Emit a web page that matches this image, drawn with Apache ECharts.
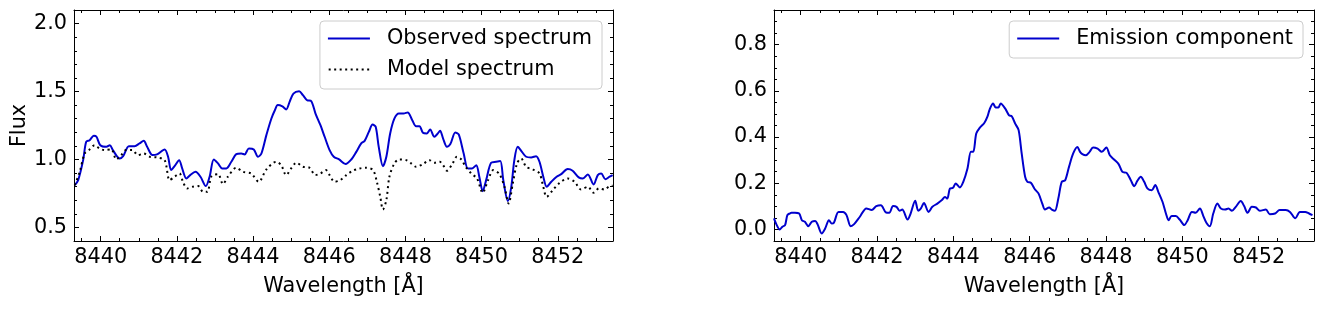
<!DOCTYPE html>
<html><head><meta charset="utf-8">
<script src="https://cdn.jsdelivr.net/npm/echarts@6/dist/echarts.min.js"></script>
<style>html,body{margin:0;padding:0;background:#fff}#c{width:1323px;height:309px}</style>
</head><body><div id="c"></div>
<script>
// [wavelength (Å), flux]
const observedSpectrum = [
[8439.32,0.811],[8439.41,0.848],[8439.54,0.995],[8439.62,1.13],[8439.71,1.142],[8439.82,1.174],[8439.89,1.167],[8439.99,1.105],
[8440.15,1.093],[8440.24,1.105],[8440.32,1.069],[8440.50,1.007],[8440.59,1.024],[8440.74,1.098],[8440.89,1.098],[8441.02,1.118],
[8441.13,1.137],[8441.22,1.093],[8441.36,1.032],[8441.48,1.037],[8441.68,1.074],[8441.77,1.02],[8441.85,0.922],[8441.94,0.951],
[8442.06,0.995],[8442.14,0.934],[8442.25,0.86],[8442.35,0.885],[8442.49,0.909],[8442.62,0.873],[8442.76,0.804],[8442.86,0.873],
[8442.97,1.0],[8443.08,0.971],[8443.19,0.934],[8443.30,0.934],[8443.43,0.983],[8443.56,1.039],[8443.69,1.044],[8443.78,1.037],
[8443.89,1.081],[8444.02,1.074],[8444.13,1.02],[8444.22,1.044],[8444.35,1.179],[8444.48,1.30],[8444.57,1.36],[8444.65,1.40],
[8444.77,1.39],[8444.87,1.368],[8444.96,1.424],[8445.06,1.485],[8445.21,1.502],[8445.31,1.473],[8445.42,1.436],[8445.53,1.429],
[8445.64,1.338],[8445.77,1.252],[8445.88,1.167],[8446.01,1.069],[8446.12,1.02],[8446.26,1.0],[8446.43,0.966],[8446.58,1.0],
[8446.71,1.056],[8446.84,1.118],[8446.93,1.137],[8447.04,1.203],[8447.14,1.257],[8447.22,1.24],[8447.30,1.093],[8447.41,0.951],
[8447.50,1.02],[8447.60,1.191],[8447.71,1.30],[8447.83,1.338],[8447.95,1.338],[8448.06,1.346],[8448.18,1.289],[8448.28,1.245],
[8448.37,1.245],[8448.46,1.196],[8448.56,1.191],[8448.65,1.221],[8448.76,1.167],[8448.85,1.191],[8448.91,1.211],[8448.99,1.154],
[8449.09,1.093],[8449.18,1.113],[8449.31,1.199],[8449.40,1.184],[8449.53,1.044],[8449.64,0.934],[8449.75,0.934],[8449.86,0.958],
[8449.94,0.873],[8450.03,0.767],[8450.12,0.848],[8450.25,0.976],[8450.38,0.983],[8450.49,0.988],[8450.57,0.848],[8450.69,0.694],
[8450.78,0.799],[8450.86,0.995],[8450.95,1.093],[8451.06,1.056],[8451.17,1.02],[8451.30,1.015],[8451.43,1.024],[8451.52,0.983],
[8451.62,0.873],[8451.71,0.799],[8451.83,0.836],[8451.97,0.873],[8452.09,0.892],[8452.26,0.929],[8452.39,0.917],[8452.55,0.868],
[8452.66,0.86],[8452.79,0.89],[8452.94,0.816],[8453.05,0.885],[8453.14,0.897],[8453.25,0.855],[8453.36,0.873],[8453.44,0.885]
];
const modelSpectrum = [
[8439.32,0.811],[8439.45,0.909],[8439.58,1.044],[8439.71,1.074],[8439.84,1.105],[8439.97,1.081],[8440.10,1.069],[8440.28,1.074],
[8440.41,1.0],[8440.54,1.032],[8440.67,1.069],[8440.83,1.069],[8440.98,1.032],[8441.13,1.044],[8441.29,1.02],[8441.48,1.015],
[8441.68,0.995],[8441.81,0.848],[8441.94,0.873],[8442.07,0.897],[8442.16,0.836],[8442.27,0.787],[8442.41,0.799],[8442.56,0.804],
[8442.69,0.762],[8442.80,0.762],[8442.91,0.877],[8443.08,0.892],[8443.21,0.819],[8443.34,0.873],[8443.56,0.939],[8443.74,0.909],
[8443.95,0.897],[8444.15,0.836],[8444.35,0.926],[8444.61,0.983],[8444.74,0.958],[8444.87,0.885],[8445.00,0.934],[8445.14,0.976],
[8445.31,0.946],[8445.47,0.941],[8445.64,0.885],[8445.77,0.897],[8445.91,0.922],[8446.01,0.885],[8446.14,0.836],[8446.29,0.848],
[8446.45,0.885],[8446.62,0.917],[8446.80,0.934],[8446.97,0.939],[8447.15,0.922],[8447.25,0.836],[8447.34,0.725],[8447.41,0.632],
[8447.50,0.701],[8447.58,0.873],[8447.71,0.971],[8447.83,1.0],[8448.02,0.995],[8448.15,0.971],[8448.28,0.946],[8448.46,0.966],
[8448.63,0.995],[8448.76,0.976],[8448.90,0.983],[8448.99,0.958],[8449.09,0.917],[8449.24,0.971],[8449.35,1.02],[8449.47,1.0],
[8449.58,0.946],[8449.73,0.897],[8449.88,0.86],[8450.03,0.755],[8450.17,0.848],[8450.31,0.922],[8450.47,0.892],[8450.60,0.799],
[8450.71,0.676],[8450.82,0.824],[8450.93,0.971],[8451.04,1.007],[8451.17,0.946],[8451.35,0.926],[8451.52,0.897],[8451.61,0.811],
[8451.71,0.725],[8451.87,0.775],[8452.05,0.828],[8452.26,0.86],[8452.44,0.836],[8452.61,0.779],[8452.79,0.799],[8452.94,0.755],
[8453.08,0.787],[8453.23,0.779],[8453.36,0.804],[8453.44,0.806]
];
const emissionComponent = [
[8439.30,0.048],[8439.36,0.023],[8439.45,0.0],[8439.52,0.012],[8439.59,0.019],[8439.65,0.062],[8439.71,0.069],[8439.76,0.072],
[8439.85,0.072],[8439.96,0.069],[8440.03,0.04],[8440.11,0.033],[8440.20,0.014],[8440.29,0.033],[8440.38,0.037],[8440.44,0.023],
[8440.55,-0.017],[8440.64,0.004],[8440.74,0.04],[8440.81,0.026],[8440.87,0.029],[8440.99,0.076],[8441.11,0.076],[8441.20,0.062],
[8441.31,0.014],[8441.40,0.023],[8441.55,0.055],[8441.72,0.091],[8441.86,0.084],[8441.98,0.101],[8442.10,0.105],[8442.23,0.074],
[8442.32,0.072],[8442.42,0.101],[8442.51,0.098],[8442.59,0.081],[8442.66,0.086],[8442.80,0.043],[8442.88,0.069],[8443.00,0.124],
[8443.08,0.081],[8443.15,0.091],[8443.23,0.115],[8443.35,0.076],[8443.45,0.098],[8443.58,0.112],[8443.70,0.127],[8443.78,0.141],
[8443.84,0.134],[8443.91,0.177],[8443.99,0.18],[8444.06,0.199],[8444.17,0.182],[8444.26,0.206],[8444.37,0.264],[8444.46,0.336],
[8444.52,0.336],[8444.60,0.415],[8444.69,0.44],[8444.81,0.461],[8444.89,0.487],[8444.95,0.519],[8445.04,0.545],[8445.11,0.528],
[8445.18,0.528],[8445.24,0.545],[8445.36,0.523],[8445.46,0.494],[8445.53,0.49],[8445.62,0.458],[8445.71,0.43],[8445.79,0.329],
[8445.88,0.228],[8445.94,0.206],[8446.03,0.202],[8446.14,0.173],[8446.23,0.156],[8446.33,0.112],[8446.40,0.086],[8446.51,0.095],
[8446.58,0.086],[8446.66,0.081],[8446.75,0.134],[8446.84,0.206],[8446.93,0.213],[8447.03,0.271],[8447.14,0.329],[8447.25,0.357],
[8447.32,0.336],[8447.38,0.326],[8447.47,0.321],[8447.57,0.336],[8447.66,0.355],[8447.78,0.35],[8447.89,0.336],[8448.01,0.355],
[8448.10,0.321],[8448.21,0.303],[8448.33,0.283],[8448.43,0.249],[8448.54,0.245],[8448.65,0.213],[8448.74,0.187],[8448.82,0.21],
[8448.91,0.228],[8449.00,0.206],[8449.09,0.177],[8449.20,0.17],[8449.29,0.192],[8449.37,0.163],[8449.48,0.12],[8449.57,0.069],
[8449.64,0.04],[8449.72,0.058],[8449.83,0.058],[8449.93,0.043],[8450.05,0.019],[8450.14,0.04],[8450.25,0.076],[8450.35,0.072],
[8450.46,0.091],[8450.55,0.058],[8450.63,0.029],[8450.72,0.014],[8450.81,0.069],[8450.92,0.112],[8451.01,0.091],[8451.12,0.086],
[8451.21,0.091],[8451.30,0.081],[8451.40,0.098],[8451.53,0.123],[8451.62,0.101],[8451.71,0.072],[8451.82,0.098],[8451.93,0.095],
[8452.03,0.081],[8452.19,0.086],[8452.29,0.066],[8452.43,0.069],[8452.55,0.084],[8452.71,0.084],[8452.82,0.076],[8452.96,0.048],
[8453.08,0.076],[8453.22,0.076],[8453.32,0.069],[8453.41,0.062]
];
const xTickLabels = [8440, 8442, 8444, 8446, 8448, 8450, 8452];
const fluxTickLabels = [0.5, 1.0, 1.5, 2.0];
const emissionTickLabels = [0.0, 0.2, 0.4, 0.6, 0.8];
const seriesNames = ['Observed spectrum', 'Model spectrum', 'Emission component'];
const xAxisName = 'Wavelength [Å]';
const leftYName = 'Flux';

function steps(a, b, s) { const out = []; for (let v = a; v <= b + 1e-9; v += s) out.push(Math.round(v * 1000) / 1000); return out; }
const xMin = 8439.3, xMax = 8453.45;
const xMinor = steps(8439.5, 8453.0, 0.5);
const fluxMinor = steps(0.4, 2.1, 0.1);
const emMinor = steps(-0.05, 0.95, 0.05);

const FONT = 'DejaVu Sans';
const FS = 20.8;
const BLACK = '#000';
const BLUE = '#0000CD';
const tickLine = {color: BLACK, width: 1};

function xAxesFor(gi) {
  const base = {type: 'value', gridIndex: gi, min: xMin, max: xMax, splitLine: {show: false}, axisPointer: {show: false}};
  return [
    Object.assign({}, base, {position: 'bottom', name: xAxisName, nameLocation: 'middle', nameGap: 35,
      nameTextStyle: {fontFamily: FONT, fontSize: FS, color: BLACK},
      axisLine: {show: true, onZero: false, lineStyle: {color: BLACK, width: 1}},
      axisTick: {show: true, inside: true, length: 5, customValues: xTickLabels, lineStyle: tickLine},
      axisLabel: {show: true, customValues: xTickLabels, formatter: v => String(v), fontFamily: FONT, fontSize: FS, color: BLACK, margin: 6}}),
    Object.assign({}, base, {position: 'bottom', axisLine: {show: false, onZero: false},
      axisTick: {show: true, inside: true, length: 3, customValues: xMinor, lineStyle: tickLine}, axisLabel: {show: false}}),
    Object.assign({}, base, {position: 'top', axisLine: {show: true, onZero: false, lineStyle: {color: BLACK, width: 1}},
      axisTick: {show: true, inside: true, length: 5, customValues: xTickLabels, lineStyle: tickLine}, axisLabel: {show: false}}),
    Object.assign({}, base, {position: 'top', axisLine: {show: false, onZero: false},
      axisTick: {show: true, inside: true, length: 3, customValues: xMinor, lineStyle: tickLine}, axisLabel: {show: false}})
  ];
}
function yAxesFor(gi, min, max, major, minor, name) {
  const base = {type: 'value', gridIndex: gi, min: min, max: max, splitLine: {show: false}, axisPointer: {show: false}};
  const main = Object.assign({}, base, {position: 'left',
      axisLine: {show: true, onZero: false, lineStyle: {color: BLACK, width: 1}},
      axisTick: {show: true, inside: true, length: 5, customValues: major, lineStyle: tickLine},
      axisLabel: {show: true, customValues: major, formatter: v => v.toFixed(1), fontFamily: FONT, fontSize: FS, color: BLACK, margin: 7}});
  if (name) Object.assign(main, {name: name, nameLocation: 'middle', nameGap: 44, nameTextStyle: {fontFamily: FONT, fontSize: FS, color: BLACK}});
  return [
    main,
    Object.assign({}, base, {position: 'left', axisLine: {show: false, onZero: false},
      axisTick: {show: true, inside: true, length: 3, customValues: minor, lineStyle: tickLine}, axisLabel: {show: false}}),
    Object.assign({}, base, {position: 'right', axisLine: {show: true, onZero: false, lineStyle: {color: BLACK, width: 1}},
      axisTick: {show: true, inside: true, length: 5, customValues: major, lineStyle: tickLine}, axisLabel: {show: false}}),
    Object.assign({}, base, {position: 'right', axisLine: {show: false, onZero: false},
      axisTick: {show: true, inside: true, length: 3, customValues: minor, lineStyle: tickLine}, axisLabel: {show: false}})
  ];
}
const solidIcon = 'path://M0,0H42V2H0Z';
const dottedIcon = 'path://M0,0h2v2h-2z M5.5,0h2v2h-2z M11,0h2v2h-2z M16.5,0h2v2h-2z M22,0h2v2h-2z M27.5,0h2v2h-2z M33,0h2v2h-2z M38.5,0h2v2h-2z';
const legendBase = {orient: 'vertical', top: 21, itemWidth: 42, itemHeight: 2, itemGap: 10, padding: [7, 10, 9, 8],
  backgroundColor: 'rgba(255,255,255,0.8)', borderColor: '#cccccc', borderWidth: 1, borderRadius: 4, selectedMode: false,
  textStyle: {fontFamily: FONT, fontSize: FS, color: BLACK, lineHeight: 20, padding: [0, 0, 0, 12]}};

const chart = echarts.init(document.getElementById('c'), null, {renderer: 'canvas'});
chart.setOption({
  animation: false,
  backgroundColor: '#fff',
  grid: [
    {left: 74, top: 10, width: 539, height: 231, containLabel: false},
    {left: 774, top: 10, width: 540, height: 231, containLabel: false}
  ],
  xAxis: xAxesFor(0).concat(xAxesFor(1)),
  yAxis: yAxesFor(0, 0.4, 2.1, fluxTickLabels, fluxMinor, leftYName)
    .concat(yAxesFor(1, -0.05, 0.95, emissionTickLabels, emMinor, null)),
  legend: [
    Object.assign({}, legendBase, {right: 721, data: [
      {name: seriesNames[0], icon: solidIcon, itemStyle: {color: BLUE}},
      {name: seriesNames[1], icon: dottedIcon, itemStyle: {color: BLACK}}]}),
    Object.assign({}, legendBase, {right: 20, data: [{name: seriesNames[2], icon: solidIcon, itemStyle: {color: BLUE}}]})
  ],
  series: [
    {type: 'line', name: seriesNames[0], xAxisIndex: 0, yAxisIndex: 0, data: observedSpectrum, symbol: 'none', showSymbol: false,
     smooth: 0.3, clip: true, lineStyle: {color: BLUE, width: 2}, itemStyle: {color: BLUE}},
    {type: 'line', name: seriesNames[1], xAxisIndex: 0, yAxisIndex: 0, data: modelSpectrum, symbol: 'none', showSymbol: false,
     smooth: 0.3, clip: true, lineStyle: {color: BLACK, width: 2, type: [2, 3.5]}, itemStyle: {color: BLACK}},
    {type: 'line', name: seriesNames[2], xAxisIndex: 4, yAxisIndex: 4, data: emissionComponent, symbol: 'none', showSymbol: false,
     smooth: 0.3, clip: true, lineStyle: {color: BLUE, width: 2}, itemStyle: {color: BLUE}}
  ]
});
</script></body></html>
